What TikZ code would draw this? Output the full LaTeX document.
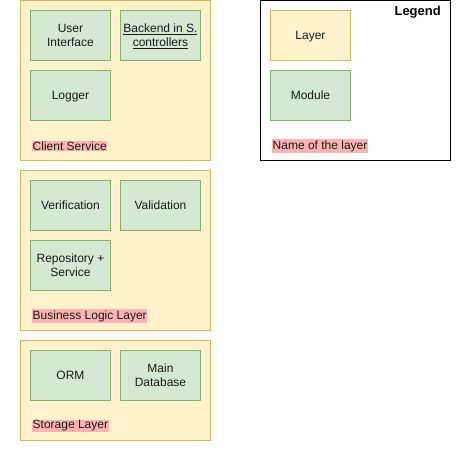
\documentclass[tikz,border=0pt]{standalone}
\usepackage{fontspec}
\setmainfont{Liberation Sans}
\definecolor{layerfill}{HTML}{FFF2CC}
\definecolor{layerdraw}{HTML}{D6B656}
\definecolor{modfill}{HTML}{D5E8D4}
\definecolor{moddraw}{HTML}{82B366}
\definecolor{lblfill}{HTML}{FFB3B3}
\definecolor{txt}{HTML}{1A1A1A}
\newcommand{\mtxt}[1]{\raisebox{-1.5pt}[\height][\depth]{\begin{tabular}{@{}c@{}}#1\end{tabular}}}
\begin{document}
\begin{tikzpicture}[x=1pt,y=-1pt,
  layerbox/.style={draw=layerdraw,fill=layerfill,line width=0.9pt},
  modbox/.style={draw=moddraw,fill=modfill,line width=0.9pt,minimum width=80pt,minimum height=50pt,inner sep=0pt,align=center,text=txt,font=\fontsize{12}{14}\selectfont,anchor=north west},
  lbl/.style={fill=lblfill,inner xsep=0.5pt,inner ysep=1pt,text=txt,font=\fontsize{12}{14}\selectfont,anchor=west}]
\useasboundingbox (0,0) rectangle (467,452);
% Layers
\path[layerbox] (20,0.5) rectangle (210,160);
\path[layerbox] (20,170) rectangle (210,330);
\path[layerbox] (20,340) rectangle (210,440);
% Client service
\node[modbox] (ui) at (30,10) {\mtxt{User\\Interface}};
\node[modbox] (be) at (120,10) {\mtxt{\underline{Backend in S.}\\\underline{controllers}}};
\node[modbox] (log) at (30,70) {\mtxt{Logger}};
\node[lbl] (cs) at (32,146) {Client Service};
% Business logic
\node[modbox] (ver) at (30,180) {\mtxt{Verification}};
\node[modbox] (val) at (120,180) {\mtxt{Validation}};
\node[modbox] (rep) at (30,240) {\mtxt{Repository +\\Service}};
\node[lbl] (bl) at (32,316) {Business Logic Layer};
% Storage
\node[modbox] (orm) at (30,350) {\mtxt{ORM}};
\node[modbox] (db) at (120,350) {\mtxt{Main\\Database}};
\node[lbl] (sl) at (32,426) {Storage Layer};
% Legend
\path[draw=black,fill=white,line width=0.9pt] (260,0.5) rectangle (450,160);
\node[anchor=north east,inner sep=0pt,font=\bfseries\fontsize{13}{15}\selectfont] (lg) at (441,6) {Legend};
\node[modbox,draw=layerdraw,fill=layerfill] (ll) at (270,10) {\mtxt{Layer}};
\node[modbox] (lm) at (270,70) {\mtxt{Module}};
\node[lbl] (ln) at (272,146) {Name of the layer};
\end{tikzpicture}
\end{document}
